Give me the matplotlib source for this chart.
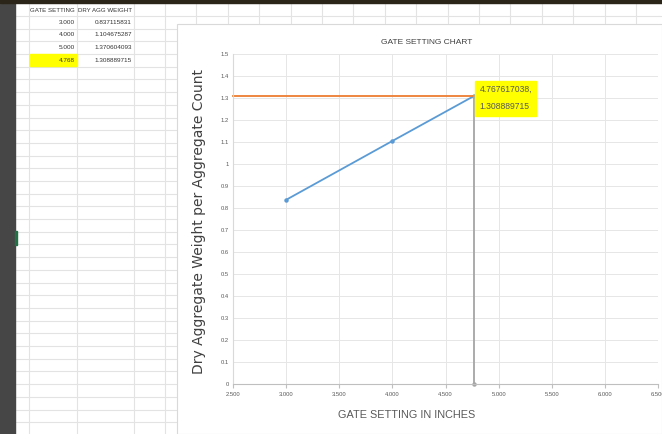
import numpy as np
import matplotlib
matplotlib.use("Agg")
import matplotlib.pyplot as plt
from matplotlib.patches import Rectangle

# worksheet values
col_headers = ["GATE SETTING", "DRY AGG WEIGHT"]
gate_setting = [3.000, 4.000, 5.000]
dry_agg_weight = [0.837115831, 1.104675287, 1.370604093]
target_gate = 4.767617038
target_weight = 1.308889715

# chart axis ticks
x_ticks = [2.5, 3.0, 3.5, 4.0, 4.5, 5.0, 5.5, 6.0, 6.5]
y_ticks = [0, 0.1, 0.2, 0.3, 0.4, 0.5, 0.6, 0.7, 0.8, 0.9, 1.0, 1.1, 1.2, 1.3, 1.4, 1.5]

NARROW = ["Liberation Sans Narrow", "Liberation Sans", "DejaVu Sans"]
W, H = 662, 434

fig = plt.figure(figsize=(W / 100, H / 100), dpi=100)

# spreadsheet backdrop, drawn in pixel coordinates
bg = fig.add_axes([0, 0, 1, 1])
bg.set_xlim(0, W)
bg.set_ylim(H, 0)
bg.axis("off")
bg.add_patch(Rectangle((0, 0), W, H, color="white", zorder=0))
grid_c = "#e3e3e3"
for y in np.arange(3.2, H, 12.7):
    bg.plot([15, W], [y, y], color=grid_c, lw=0.8, zorder=1)
for x in [29, 77, 134] + list(np.arange(165, W, 31.4)):
    bg.plot([x, x], [0, H], color=grid_c, lw=0.8, zorder=1)
bg.add_patch(Rectangle((0, 0), 15, H, color="#464646", zorder=3))
bg.add_patch(Rectangle((0, 0), W, 3, color="#2b2418", zorder=3))
bg.add_patch(Rectangle((15, 231), 2, 14, color="#217346", zorder=3))

# worksheet cells
bg.add_patch(Rectangle((29.5, 53.5), 47, 12, color="#ffff00", zorder=2))
bg.text(52, 10, col_headers[0], fontsize=4.4, family=NARROW, color="#333333",
        ha="center", va="center", zorder=4)
bg.text(105, 10, col_headers[1], fontsize=4.4, family=NARROW, color="#333333",
        ha="center", va="center", zorder=4)
rows_g = gate_setting + [target_gate]
rows_w = dry_agg_weight + [target_weight]
for i, (g, w) in enumerate(zip(rows_g, rows_w)):
    yy = 22.3 + i * 12.7
    bg.text(75, yy, f"{g:.3f}", fontsize=4.6, family=NARROW, color="#333333",
            ha="right", va="center", zorder=4)
    bg.text(132, yy, f"{w:.9f}", fontsize=4.6, family=NARROW, color="#333333",
            ha="right", va="center", zorder=4)

# chart panel
bg.add_patch(Rectangle((177, 24), W - 177, H - 24, facecolor="white",
                       edgecolor="#d9d9d9", lw=0.8, zorder=5))
bg.text(427, 42, "GATE SETTING CHART", fontsize=6.0, family=NARROW, color="#404040",
        ha="center", va="center", zorder=6)
bg.text(199, 222, "Dry Aggregate Weight per Aggregate Count", fontsize=10.0,
        color="#404040", rotation=90, ha="center", va="center", zorder=6)
bg.text(407, 415, "GATE SETTING IN INCHES", fontsize=7.8, family=NARROW, color="#595959",
        ha="center", va="center", zorder=6)

# plot area
ax = fig.add_axes([233 / W, 50 / H, 425 / W, 330 / H])
ax.set_zorder(10)
ax.patch.set_alpha(0)
ax.set_xlim(2.5, 6.5)
ax.set_ylim(0, 1.5)
ax.set_xticks(x_ticks)
ax.set_xticklabels([f"{t:.3f}" for t in x_ticks])
ax.set_yticks(y_ticks)
ax.set_yticklabels([f"{t:g}" for t in y_ticks])
ax.grid(True, color="#e6e6e6", lw=0.7)
ax.set_axisbelow(True)
for s in ["top", "right"]:
    ax.spines[s].set_visible(False)
ax.spines["left"].set_color("#d9d9d9")
ax.spines["bottom"].set_color("#bfbfbf")
ax.tick_params(axis="both", labelsize=4.2, colors="#595959", pad=3)
ax.tick_params(axis="y", length=0)
ax.tick_params(axis="x", length=3, direction="out", color="#bfbfbf")
for lab in ax.get_xticklabels() + ax.get_yticklabels():
    lab.set_family(NARROW)

# calibration line up to the target point
ax.plot(gate_setting[:2] + [target_gate], dry_agg_weight[:2] + [target_weight],
        color="#5B9BD5", lw=1.3, marker="o", ms=2.2, clip_on=False)
ax.plot([2.5, target_gate], [target_weight, target_weight], color="#ED7D31", lw=1.3,
        clip_on=False)
ax.plot([target_gate, target_gate], [0, target_weight], color="#A5A5A5", lw=1.3,
        marker="o", ms=2.2, markevery=[0], clip_on=False)
ax.annotate(f"{target_gate:.9f},\n{target_weight:.9f}", xy=(target_gate, target_weight),
            xytext=(4, -1.5), textcoords="offset points", ha="left", va="center",
            fontsize=6.2, family=NARROW, color="#595959", linespacing=2.2,
            bbox=dict(boxstyle="square,pad=0.5", fc="#ffff00", ec="#ffff00"))

fig.savefig("out.png", dpi=100)
